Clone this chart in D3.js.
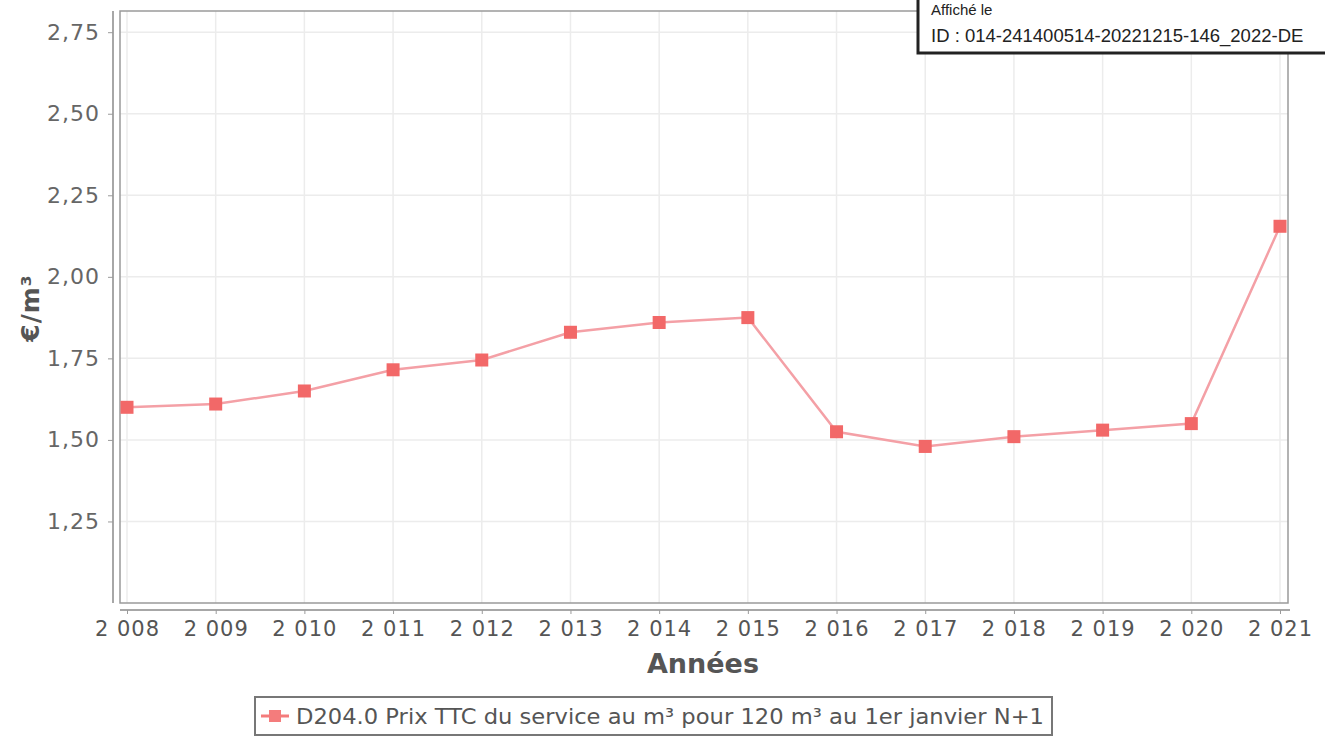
<!DOCTYPE html>
<html>
<head>
<meta charset="utf-8">
<script src="https://cdn.jsdelivr.net/npm/d3@7"></script>
<style>
  body { margin: 0; background: #fff; }
  svg { display: block; }
</style>
</head>
<body>
<div id="chart"></div>
<script>
// data
var years = [2008, 2009, 2010, 2011, 2012, 2013, 2014, 2015, 2016, 2017, 2018, 2019, 2020, 2021];
var prices = [1.60, 1.61, 1.65, 1.715, 1.745, 1.83, 1.86, 1.875, 1.525, 1.48, 1.51, 1.53, 1.55, 2.155];
var yTicks = [1.25, 1.50, 1.75, 2.00, 2.25, 2.50, 2.75];
var seriesName = "D204.0 Prix TTC du service au m³ pour 120 m³ au 1er janvier N+1";
var stampLines = ["Affiché le", "ID : 014-241400514-20221215-146_2022-DE"];

var W = 1325, H = 737;
var plot = {left: 120, right: 1288, top: 11, bottom: 603};

var svg = d3.select("#chart").append("svg")
    .attr("width", W)
    .attr("height", H);

var x = d3.scaleLinear()
    .domain([2008, 2021])
    .range([plot.left + 7, plot.right - 8]);

var y = d3.scaleLinear()
    .domain([1.0, 2.815])
    .range([plot.bottom, plot.top]);

var frFmt = d3.formatLocale({decimal: ",", thousands: " ", grouping: [3], currency: ["", " €"]});
var yFmt = frFmt.format(".2f");
// years are printed with a space after the first digit, "2 008"
var xFmt = function(d) { return String(d).charAt(0) + " " + String(d).slice(1); };

// grid lines
var grid = svg.append("g");
grid.selectAll(".vg")
    .data(years)
    .enter().append("line")
    .attr("x1", function(d) { return x(d); })
    .attr("x2", function(d) { return x(d); })
    .attr("y1", plot.top)
    .attr("y2", plot.bottom)
    .attr("stroke", "#ececec")
    .attr("stroke-width", 1.5);
grid.selectAll(".hg")
    .data(yTicks)
    .enter().append("line")
    .attr("x1", plot.left)
    .attr("x2", plot.right)
    .attr("y1", function(d) { return y(d); })
    .attr("y2", function(d) { return y(d); })
    .attr("stroke", "#ececec")
    .attr("stroke-width", 1.5);

// plot frame
svg.append("rect")
    .attr("x", plot.left)
    .attr("y", plot.top)
    .attr("width", plot.right - plot.left)
    .attr("height", plot.bottom - plot.top)
    .attr("fill", "none")
    .attr("stroke", "#9a9a9a")
    .attr("stroke-width", 1.5);

// y axis (offset to the left of the plot)
var yAxis = d3.axisLeft(y)
    .tickValues(yTicks)
    .tickFormat(yFmt)
    .tickSize(5)
    .tickPadding(8);
var gy = svg.append("g")
    .attr("transform", "translate(113,0)")
    .call(yAxis);
gy.select(".domain").attr("stroke", "#8a8a8a").attr("stroke-width", 1.5)
    .attr("d", "M0," + plot.top + "V" + plot.bottom);
gy.selectAll(".tick line").attr("stroke", "#9a9a9a");
gy.selectAll(".tick text")
    .attr("fill", "#666")
    .style("font-family", "DejaVu Sans, sans-serif")
    .style("font-size", "22px")
    .style("letter-spacing", "1px");

// x axis (offset below the plot)
var xAxis = d3.axisBottom(x)
    .tickValues(years)
    .tickFormat(xFmt)
    .tickSize(4)
    .tickPadding(7);
var gx = svg.append("g")
    .attr("transform", "translate(0,610)")
    .call(xAxis);
gx.select(".domain").attr("stroke", "#8a8a8a").attr("stroke-width", 1.5)
    .attr("d", "M" + plot.left + ",0H" + (plot.right + 2));
gx.selectAll(".tick line").attr("stroke", "#9a9a9a");
gx.selectAll(".tick text")
    .attr("fill", "#555")
    .style("font-family", "DejaVu Sans, sans-serif")
    .style("font-size", "21px")
    .style("letter-spacing", "1px");

// axis titles
svg.append("text")
    .attr("transform", "translate(39,308) rotate(-90)")
    .style("text-anchor", "middle")
    .style("font-family", "DejaVu Sans, sans-serif")
    .style("font-weight", "bold")
    .style("font-size", "25px")
    .style("letter-spacing", "1px")
    .attr("fill", "#555")
    .text("€/m³");

svg.append("text")
    .attr("x", 703)
    .attr("y", 673)
    .style("text-anchor", "middle")
    .style("font-family", "DejaVu Sans, sans-serif")
    .style("font-weight", "bold")
    .style("font-size", "27px")
    .attr("fill", "#555")
    .text("Années");

// series line + markers
var line = d3.line()
    .x(function(d, i) { return x(years[i]); })
    .y(function(d) { return y(d); });

svg.append("path")
    .datum(prices)
    .attr("d", line)
    .attr("fill", "none")
    .attr("stroke", "#f4a0a6")
    .attr("stroke-width", 2.5);

svg.selectAll(".pt")
    .data(prices)
    .enter().append("rect")
    .attr("class", "pt")
    .attr("x", function(d, i) { return x(years[i]) - 6.5; })
    .attr("y", function(d) { return y(d) - 6.5; })
    .attr("width", 13)
    .attr("height", 13)
    .attr("fill", "#f26868");

// legend
var lg = svg.append("g");
lg.append("rect")
    .attr("x", 255)
    .attr("y", 697)
    .attr("width", 797)
    .attr("height", 38)
    .attr("fill", "#fff")
    .attr("stroke", "#777")
    .attr("stroke-width", 2);
lg.append("line")
    .attr("x1", 261).attr("x2", 289)
    .attr("y1", 716).attr("y2", 716)
    .attr("stroke", "#f47c7c")
    .attr("stroke-width", 3);
lg.append("rect")
    .attr("x", 269).attr("y", 710)
    .attr("width", 12).attr("height", 12)
    .attr("fill", "#f47c7c");
lg.append("text")
    .attr("x", 296)
    .attr("y", 724)
    .attr("textLength", 748)
    .attr("lengthAdjust", "spacingAndGlyphs")
    .style("font-family", "DejaVu Sans, sans-serif")
    .style("font-size", "21px")
    .attr("fill", "#555")
    .text(seriesName);

// stamp in the top right corner
var st = svg.append("g");
st.append("rect")
    .attr("x", 918)
    .attr("y", -20)
    .attr("width", 420)
    .attr("height", 73)
    .attr("fill", "#fff")
    .attr("stroke", "#222")
    .attr("stroke-width", 3);
st.selectAll("text")
    .data(stampLines)
    .enter().append("text")
    .attr("x", 931)
    .attr("y", function(d, i) { return 15 + i * 27; })
    .style("font-family", "Liberation Sans, Arial, sans-serif")
    .style("font-size", function(d, i) { return i ? "18.5px" : "15px"; })
    .attr("fill", "#222")
    .text(function(d) { return d; });
</script>
</body>
</html>
